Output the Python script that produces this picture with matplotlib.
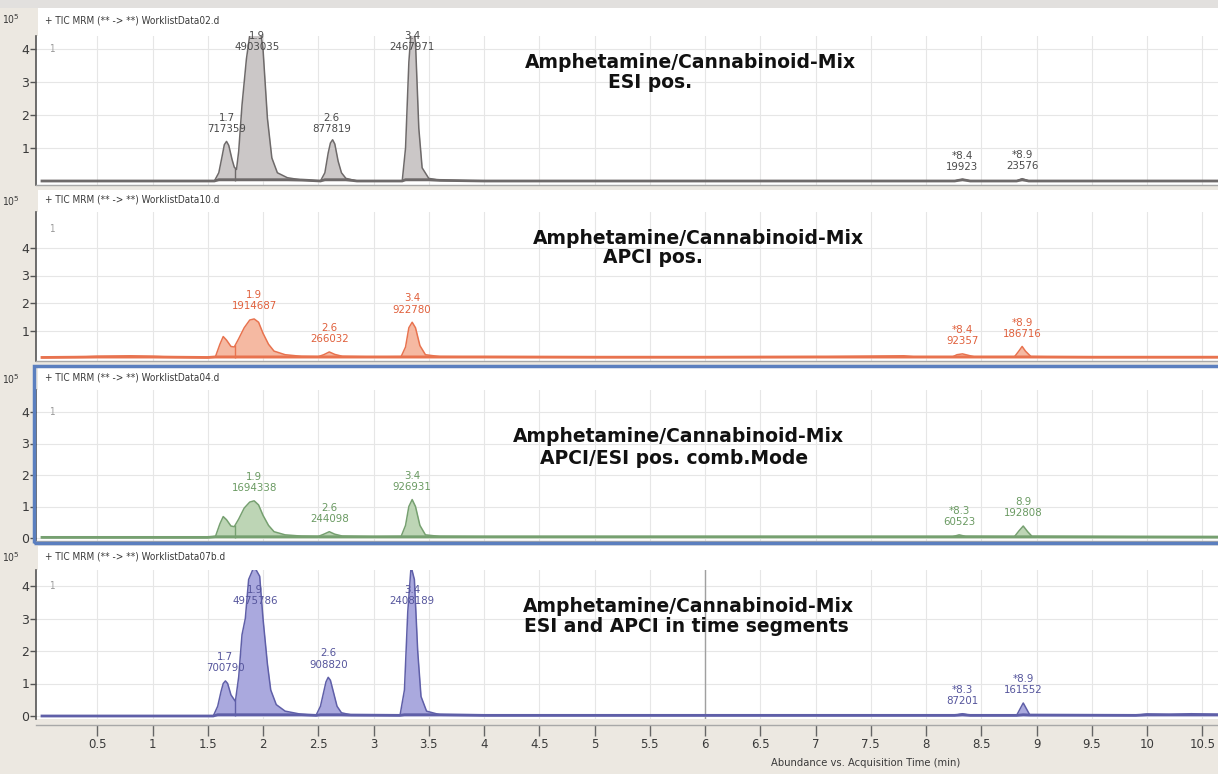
import matplotlib
matplotlib.use("Agg")
import matplotlib.pyplot as plt
from matplotlib.patches import Rectangle
import numpy as np

# chromatogram traces (time in min, abundance x10^5)
esi_t = [0.0, 1.56, 1.60, 1.63, 1.65, 1.67, 1.69, 1.72, 1.74, 1.76, 1.78, 1.81, 1.85, 1.90,
         1.95, 2.00, 2.04, 2.08, 2.13, 2.22, 2.35, 2.52, 2.56, 2.59, 2.61, 2.63, 2.65, 2.68,
         2.71, 2.75, 2.85, 3.26, 3.29, 3.32, 3.35, 3.38, 3.41, 3.44, 3.50, 3.60, 4.0, 8.26,
         8.33, 8.40, 8.82, 8.87, 8.93, 10.7]
esi_y = [0.0, 0.0, 0.25, 0.75, 1.1, 1.2, 1.08, 0.65, 0.42, 0.35, 0.9, 2.3, 3.7, 4.9,
         5.2, 4.0, 1.9, 0.7, 0.25, 0.1, 0.03, 0.0, 0.25, 0.85, 1.15, 1.25, 1.12, 0.6,
         0.25, 0.08, 0.0, 0.0, 1.0, 3.6, 5.0, 4.2, 1.6, 0.4, 0.08, 0.02, 0.0, 0.0,
         0.05, 0.0, 0.0, 0.07, 0.0, 0.0]

apci_t = [0.0, 0.3, 0.5, 0.8, 1.0, 1.2, 1.5, 1.57, 1.61, 1.64, 1.67, 1.71, 1.74, 1.78,
          1.83, 1.88, 1.92, 1.96, 2.0, 2.05, 2.10, 2.2, 2.35, 2.5, 2.55, 2.6, 2.65, 2.72,
          3.0, 3.25, 3.29, 3.32, 3.35, 3.38, 3.42, 3.47, 3.6, 4.0, 5.0, 6.0, 7.0, 7.8,
          7.9, 8.24, 8.28, 8.33, 8.38, 8.44, 8.8, 8.84, 8.87, 8.90, 8.95, 9.5, 10.7]
apci_y = [0.02, 0.03, 0.06, 0.08, 0.06, 0.03, 0.02, 0.05, 0.5, 0.78, 0.65, 0.42, 0.4, 0.7,
          1.1, 1.38, 1.42, 1.3, 0.9, 0.5, 0.25, 0.12, 0.06, 0.05, 0.12, 0.22, 0.13, 0.06,
          0.04, 0.05, 0.4, 1.1, 1.3, 1.1, 0.45, 0.12, 0.05, 0.04, 0.03, 0.03, 0.04, 0.08,
          0.04, 0.04, 0.12, 0.15, 0.1, 0.04, 0.04, 0.25, 0.42, 0.25, 0.05, 0.03, 0.03]

comb_t = [0.0, 1.5, 1.57, 1.61, 1.64, 1.67, 1.71, 1.74, 1.78, 1.83, 1.88, 1.92, 1.96, 2.0,
          2.05, 2.10, 2.2, 2.35, 2.5, 2.55, 2.6, 2.65, 2.72, 3.0, 3.25, 3.29, 3.32, 3.35,
          3.38, 3.42, 3.47, 3.6, 4.0, 7.0, 8.24, 8.30, 8.36, 8.8, 8.84, 8.88, 8.92, 8.96, 10.7]
comb_y = [0.02, 0.02, 0.05, 0.45, 0.68, 0.58, 0.38, 0.36, 0.6, 0.95, 1.14, 1.18, 1.05, 0.72,
          0.4, 0.2, 0.1, 0.06, 0.05, 0.12, 0.2, 0.12, 0.06, 0.04, 0.05, 0.4, 1.0, 1.22,
          1.0, 0.4, 0.1, 0.05, 0.04, 0.04, 0.04, 0.1, 0.05, 0.04, 0.22, 0.38, 0.2, 0.05, 0.03]

seg_t = [0.0, 1.55, 1.59, 1.62, 1.64, 1.66, 1.68, 1.71, 1.75, 1.78, 1.81, 1.84, 1.87, 1.92,
         1.97, 2.0, 2.04, 2.07, 2.12, 2.2, 2.35, 2.48, 2.52, 2.55, 2.57, 2.59, 2.61, 2.64,
         2.67, 2.71, 2.8, 3.24, 3.28, 3.31, 3.34, 3.37, 3.40, 3.43, 3.48, 3.6, 4.0, 8.26,
         8.33, 8.40, 8.82, 8.88, 8.94, 9.9, 10.0, 10.2, 10.4, 10.7]
seg_y = [0.0, 0.0, 0.3, 0.75, 1.0, 1.08, 1.0, 0.65, 0.45, 1.2, 2.5, 3.0, 4.2, 4.6,
         4.3, 3.0, 1.6, 0.8, 0.35, 0.15, 0.05, 0.02, 0.3, 0.75, 1.05, 1.19, 1.1, 0.7,
         0.3, 0.1, 0.03, 0.02, 0.8, 3.2, 4.6, 4.2, 2.0, 0.6, 0.15, 0.04, 0.02, 0.02,
         0.07, 0.02, 0.02, 0.4, 0.03, 0.02, 0.06, 0.04, 0.07, 0.04]

# peak annotations
esi_peak_t = [1.67, 1.95, 2.62, 3.35, 8.33, 8.87]
esi_rt = ["1.7", "1.9", "2.6", "3.4", "*8.4", "*8.9"]
esi_area = ["717359", "4903035", "877819", "2467971", "19923", "23576"]

apci_peak_t = [1.92, 2.6, 3.35, 8.33, 8.87]
apci_rt = ["1.9", "2.6", "3.4", "*8.4", "*8.9"]
apci_area = ["1914687", "266032", "922780", "92357", "186716"]

comb_peak_t = [1.92, 2.6, 3.35, 8.30, 8.88]
comb_rt = ["1.9", "2.6", "3.4", "*8.3", "8.9"]
comb_area = ["1694338", "244098", "926931", "60523", "192808"]

seg_peak_t = [1.66, 1.93, 2.59, 3.35, 8.33, 8.88]
seg_rt = ["1.7", "1.9", "2.6", "3.4", "*8.3", "*8.9"]
seg_area = ["700790", "4975786", "908820", "2408189", "87201", "161552"]

valley_t = 1.75

files = ["WorklistData02.d", "WorklistData10.d", "WorklistData04.d", "WorklistData07b.d"]
title_main = "Amphetamine/Cannabinoid-Mix"
title_sub = ["ESI pos.", "APCI pos.", "APCI/ESI pos. comb.Mode", "ESI and APCI in time segments"]

x_ticks = [0.5, 1, 1.5, 2, 2.5, 3, 3.5, 4, 4.5, 5, 5.5, 6, 6.5, 7, 7.5, 8, 8.5, 9, 9.5, 10, 10.5]
x_tick_labels = ["0.5", "1", "1.5", "2", "2.5", "3", "3.5", "4", "4.5", "5", "5.5", "6",
                 "6.5", "7", "7.5", "8", "8.5", "9", "9.5", "10", "10.5"]

W, H = 1218, 774
fig = plt.figure(figsize=(W / 100, H / 100), dpi=100)
fig.patch.set_facecolor("#ece8e1")
SMALL = dict(family="DejaVu Sans", fontstretch="condensed")


def px_axes(left, top, right, bottom):
    return fig.add_axes([left / W, 1 - bottom / H, (right - left) / W, (bottom - top) / H])


def fx(x):
    return x / W


def fy(y):
    return 1 - y / H


# top light strip
fig.patches.append(Rectangle((0, fy(8)), 1, 8 / H, transform=fig.transFigure,
                             facecolor="#e2e0de", edgecolor="none", zorder=0))

panels = [
    dict(t=esi_t, y=esi_y, pt=esi_peak_t, rt=esi_rt, area=esi_area,
         fill="#cbc7c7", line="#6e6a6a", txt="#4a4a4a", zero=181, scale=33.0,
         top=36, bottom=185, head=8, cap=3.67, yt=[1, 2, 3, 4], one=4.0,
         t1=(690, 62), t2=(650, 82)),
    dict(t=apci_t, y=apci_y, pt=apci_peak_t, rt=apci_rt, area=apci_area,
         fill="#f5b9a2", line="#e8734f", txt="#e0603c", zero=358, scale=27.5,
         top=212, bottom=361, head=190, cap=3.8, yt=[1, 2, 3, 4], one=4.7,
         t1=(698, 238), t2=(653, 258)),
    dict(t=comb_t, y=comb_y, pt=comb_peak_t, rt=comb_rt, area=comb_area,
         fill="#bdd5b5", line="#76a070", txt="#6a9a62", zero=538, scale=31.5,
         top=390, bottom=541, head=368, cap=3.8, yt=[0, 1, 2, 3, 4], one=4.0,
         t1=(678, 437), t2=(674, 458)),
    dict(t=seg_t, y=seg_y, pt=seg_peak_t, rt=seg_rt, area=seg_area,
         fill="#aaa9de", line="#5f5fa8", txt="#55559c", zero=716, scale=32.5,
         top=570, bottom=719, head=546, cap=3.14, yt=[0, 1, 2, 3, 4], one=4.0,
         t1=(688, 606), t2=(686, 627)),
]

x0_px, px_per_min = 42, 110.5
xlim = ((36 - x0_px) / px_per_min, (W - x0_px) / px_per_min)

for i, p in enumerate(panels):
    # header strip
    hx = px_axes(38, p["head"], W, p["top"])
    hx.set_facecolor("white")
    hx.set_xticks([])
    hx.set_yticks([])
    for s in hx.spines.values():
        s.set_visible(False)
    hx.text(7 / (W - 38), 0.55, "+ TIC MRM (** -> **) " + files[i], transform=hx.transAxes,
            fontsize=7.2, color="#3a3a3a", va="center", ha="left", **SMALL)
    fig.text(fx(2), fy(p["head"] + 11), "10$^5$", fontsize=7.5, color="#3a3a3a",
             ha="left", va="center", **SMALL)

    ax = px_axes(36, p["top"], W, p["bottom"])
    ax.set_facecolor("white")
    ax.set_xlim(*xlim)
    ax.set_ylim(-(p["bottom"] - p["zero"]) / p["scale"], (p["zero"] - p["top"]) / p["scale"])

    t = np.array(p["t"])
    y = np.array(p["y"])
    ax.fill_between(t, y, 0, color=p["fill"], lw=0, zorder=2)
    ax.plot(t, y, color=p["line"], lw=1.1, zorder=3)
    ax.plot(t, np.minimum(y, 0.04), color=p["line"], lw=2.0, zorder=3)
    ax.vlines(valley_t, 0, np.interp(valley_t, t, y), color=p["line"], lw=1.0, zorder=3)

    for pt, rt, area in zip(p["pt"], p["rt"], p["area"]):
        apex = min(np.interp(pt, t, y), p["cap"])
        ax.annotate(rt + "\n" + area, (pt, apex), xytext=(0, 5.5), textcoords="offset points",
                    ha="center", va="bottom", fontsize=8.2, color=p["txt"],
                    linespacing=1.15, zorder=4, **SMALL)

    ax.text(0.06, p["one"], "1", fontsize=7, color="#9a9a9a", va="center", **SMALL)

    ax.set_xticks(x_ticks)
    ax.set_yticks(p["yt"])
    ax.set_yticklabels([str(v) for v in p["yt"]])
    ax.grid(True, color="#e6e6e6", lw=0.8, zorder=0)
    ax.set_axisbelow(True)
    ax.tick_params(axis="y", direction="out", length=4, width=1, color="#555555",
                   labelsize=9, labelcolor="#3a3a3a", pad=1)
    ax.spines["top"].set_visible(False)
    ax.spines["right"].set_visible(False)
    ax.spines["left"].set_color("#555555")
    ax.spines["left"].set_linewidth(1.2)
    ax.spines["bottom"].set_color("#a8a8a8")
    ax.spines["bottom"].set_linewidth(1.0)

    if i < 3:
        ax.tick_params(axis="x", length=0, labelbottom=False)
    else:
        ax.spines["bottom"].set_position(("outward", 4))
        ax.set_xticklabels(x_tick_labels)
        ax.tick_params(axis="x", direction="out", length=8, width=1, color="#666666",
                       labelsize=8.5, labelcolor="#3a3a3a", pad=2)
        ax.axvline(6, color="#a0a0a0", lw=1.0, zorder=1)

    fig.text(fx(p["t1"][0]), fy(p["t1"][1]), title_main, fontsize=13.5, fontweight="bold",
             color="#111111", ha="center", va="center")
    fig.text(fx(p["t2"][0]), fy(p["t2"][1]), title_sub[i], fontsize=13.5, fontweight="bold",
             color="#111111", ha="center", va="center")

# selected panel frame
fig.patches.append(Rectangle((fx(34), fy(543)), (W - 30) / W, 177 / H, transform=fig.transFigure,
                             facecolor="none", edgecolor="#5b7fbf", lw=2.5, zorder=10))

fig.text(fx(866), fy(763), "Abundance vs. Acquisition Time (min)", fontsize=8,
         color="#3a3a3a", ha="center", va="center", **SMALL)

fig.savefig("out.png", dpi=100, facecolor=fig.get_facecolor())
